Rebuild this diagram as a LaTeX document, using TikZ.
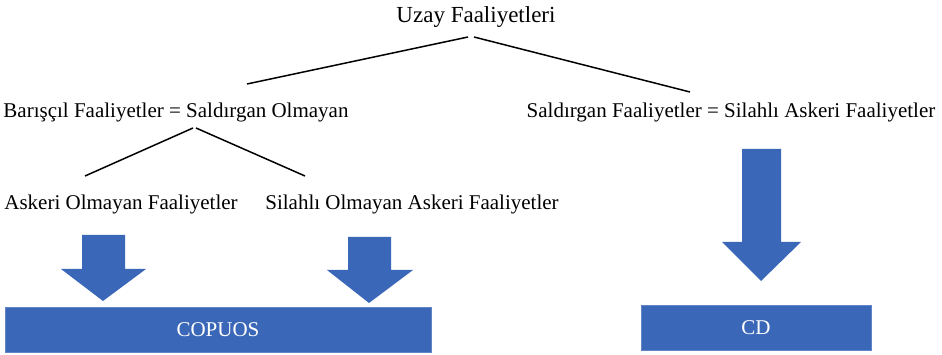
\documentclass[tikz,border=0pt]{standalone}
\usepackage{fontspec}
\setmainfont{Liberation Serif}
\definecolor{boxblue}{RGB}{59,103,184}
\begin{document}
\begin{tikzpicture}[x=1pt,y=-1pt,
  lbl/.style={font=\fontsize{21}{25}\selectfont, inner sep=0pt, text=black},
  conn/.style={draw=black, line width=1.5pt},
  bluearrow/.style={fill=boxblue, draw=none},
  bluebox/.style={fill=boxblue, draw=boxblue!80!white, line width=0.6pt, text=white, font=\fontsize{21}{25}\selectfont, inner sep=0pt}]
\useasboundingbox (0,0) rectangle (942,355);
% texts
\node[lbl, font=\fontsize{23}{27}\selectfont] (root) at (476,17) {Uzay Faaliyetleri};
\node[lbl] (peace) at (176,112) {Barışçıl Faaliyetler = Saldırgan Olmayan};
\node[lbl] (aggr) at (731,112) {Saldırgan Faaliyetler = Silahlı Askeri Faaliyetler};
\node[lbl] (nonmil) at (121,204) {Askeri Olmayan Faaliyetler};
\node[lbl] (unarmed) at (412,204) {Silahlı Olmayan Askeri Faaliyetler};
% connector endpoints
\coordinate (r1) at (468,37);
\coordinate (r2) at (474,37);
\coordinate (p1) at (247,84);
\coordinate (a1) at (690,92);
\coordinate (q1) at (193,128);
\coordinate (q2) at (196,128);
\coordinate (n1) at (85,176);
\coordinate (u1) at (305,176);
\draw[conn] (r1) -- (p1);
\draw[conn] (r2) -- (a1);
\draw[conn] (q1) -- (n1);
\draw[conn] (q2) -- (u1);
% boxes
\node[bluebox, minimum width=426, minimum height=45] (copuos) at (218,329.5) {COPUOS};
\node[bluebox, minimum width=230, minimum height=45] (cd) at (756,327.5) {CD};
% block arrows
\fill[bluearrow] (82,235) -- (125,235) -- (125,269) -- (146,269) -- (103,301) -- (61,269) -- (82,269) -- cycle;
\fill[bluearrow] (348,237) -- (391,237) -- (391,270) -- (413,270) -- (369,303) -- (327,270) -- (348,270) -- cycle;
\fill[bluearrow] (742,149) -- (781,149) -- (781,242) -- (801,242) -- (761,281) -- (722,242) -- (742,242) -- cycle;
\end{tikzpicture}
\end{document}
